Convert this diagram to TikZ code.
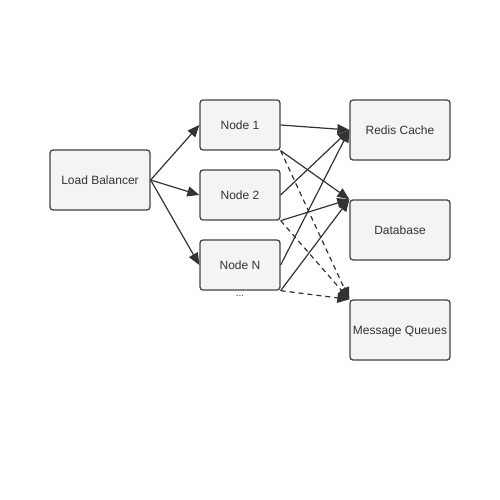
\documentclass[tikz,border=0pt]{standalone}
\usepackage{fontspec}
\setmainfont{Liberation Sans}
\usetikzlibrary{arrows.meta}

\definecolor{boxfill}{HTML}{F4F4F4}
\definecolor{boxline}{HTML}{444444}
\definecolor{ink}{HTML}{333333}

\tikzset{
    box/.style={draw=boxline, fill=boxfill, line width=1.3pt, rounded corners=3pt,
        minimum width=#1, inner sep=0pt, text=ink, text depth=0pt,
        font=\fontsize{12}{14}\selectfont},
    box/.default=80pt,
    link/.style={draw=ink, line width=1.2pt, -{Triangle[length=12pt,width=10pt]}},
    async/.style={link, dash pattern=on 5pt off 4pt}
}

\begin{document}
\begin{tikzpicture}[x=1pt, y=-1pt]

                \useasboundingbox (0,0) rectangle (500,500);

                % Balancer
                \node[box=100pt, minimum height=60pt] (lb) at (100,180) {Load Balancer};

                % Worker nodes
                \node[box, minimum height=50pt] (n1) at (240,125) {Node 1};
                \node[box, minimum height=50pt] (n2) at (240,195) {Node 2};
                \node[box, minimum height=50pt] (nN) at (240,265) {Node N};
                \node[text=ink, font=\fontsize{10}{12}\selectfont] (dots) at (240,296) {...};

                % Backends
                \node[box=100pt, minimum height=60pt] (redis) at (400,130) {Redis Cache};
                \node[box=100pt, minimum height=60pt] (db) at (400,230) {Database};
                \node[box=100pt, minimum height=60pt] (mq) at (400,330) {Message Queues};

                % Balancer to nodes
                \draw[link] (lb.east) -- (n1.west);
                \draw[link] (lb.east) -- (n2.west);
                \draw[link] (lb.east) -- (nN.west);

                % Nodes to backends
                \draw[link] (n1.east) -- (redis.west);
                \draw[link] (n1.south east) -- (db.north west);
                \draw[async] (n1.south east) -- (mq.north west);

                \draw[link] (n2.east) -- (redis.west);
                \draw[link] (n2.south east) -- (db.north west);
                \draw[async] (n2.south east) -- (mq.north west);

                \draw[link] (nN.east) -- (redis.west);
                \draw[link] (nN.south east) -- (db.north west);
                \draw[async] (nN.south east) -- (mq.north west);

\end{tikzpicture}
\end{document}
